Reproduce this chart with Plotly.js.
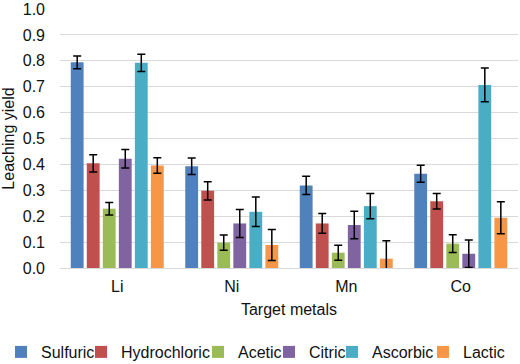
<!DOCTYPE html>
<html>
<head>
<meta charset="utf-8">
<script src="https://cdn.plot.ly/plotly-3.0.1.min.js"></script>
<style>html,body{margin:0;padding:0;background:#fff;}#chart{width:520px;height:364px;}</style>
</head>
<body>
<div id="chart"></div>
<script>
const categories = ["Li", "Ni", "Mn", "Co"];
const seriesNames = ["Sulfuric", "Hydrochloric", "Acetic", "Citric", "Ascorbic", "Lactic"];
const sulfuric = [0.794, 0.393, 0.319, 0.364];
const hydrochloric = [0.404, 0.298, 0.172, 0.258];
const acetic = [0.229, 0.098, 0.059, 0.094];
const citric = [0.422, 0.172, 0.166, 0.055];
const ascorbic = [0.792, 0.217, 0.239, 0.707];
const lactic = [0.396, 0.089, 0.036, 0.194];
const sulfuricErr = [0.025, 0.032, 0.035, 0.033];
const hydrochloricErr = [0.033, 0.035, 0.038, 0.030];
const aceticErr = [0.024, 0.029, 0.029, 0.034];
const citricErr = [0.036, 0.054, 0.053, 0.053];
const ascorbicErr = [0.033, 0.057, 0.049, 0.065];
const lacticErr = [0.030, 0.060, 0.069, 0.062];

const values = [sulfuric, hydrochloric, acetic, citric, ascorbic, lactic];
const errors = [sulfuricErr, hydrochloricErr, aceticErr, citricErr, ascorbicErr, lacticErr];
const colors = ["#4F81BD", "#C0504D", "#9BBB59", "#8064A2", "#4BACC6", "#F79646"];
// legend item left edges (px from left of page)
const legendLeft = [1, 81, 198, 269, 332, 423];

const legendKeys = ["legend", "legend2", "legend3", "legend4", "legend5", "legend6"];

const traces = seriesNames.map((name, i) => ({
  type: "bar",
  name: name,
  x: categories,
  y: values[i],
  legend: legendKeys[i],
  marker: {color: colors[i]},
  error_y: {type: "data", array: errors[i], visible: true, color: "#000000", thickness: 1.5, width: 4}
}));

const txt = "#111111";
const layout = {
  width: 520, height: 364,
  margin: {l: 60, r: 2, t: 9, b: 96},
  paper_bgcolor: "#ffffff",
  plot_bgcolor: "#ffffff",
  font: {family: "Liberation Sans, Arial, sans-serif", size: 16, color: txt},
  barmode: "group",
  bargap: 0.16,
  bargroupgap: 0.2,
  showlegend: true,
  xaxis: {
    title: {text: "Target metals", font: {size: 16, color: txt}, standoff: 9},
    tickfont: {size: 16, color: txt},
    showgrid: false, showline: true, linecolor: "#d9d9d9", linewidth: 1,
    ticks: "", ticklabelstandoff: 4, automargin: true
  },
  yaxis: {
    title: {text: "Leaching yield", font: {size: 16, color: txt}, standoff: 7},
    range: [0, 1.0], dtick: 0.1, tickformat: ".1f",
    tickfont: {size: 16, color: txt},
    showgrid: true, gridcolor: "#d9d9d9", gridwidth: 1,
    zeroline: false, showline: false, ticks: "", ticklabelstandoff: 14, automargin: true
  }
};
legendKeys.forEach((k, i) => {
  layout[k] = {
    orientation: "h", xref: "container", yref: "container",
    x: legendLeft[i] / 520, xanchor: "left", y: 12 / 364, yanchor: "middle",
    bgcolor: "rgba(0,0,0,0)", borderwidth: 0,
    font: {size: 16, color: txt}, itemwidth: 30
  };
});

Plotly.newPlot("chart", traces, layout, {displayModeBar: false, staticPlot: true});
</script>
</body>
</html>
